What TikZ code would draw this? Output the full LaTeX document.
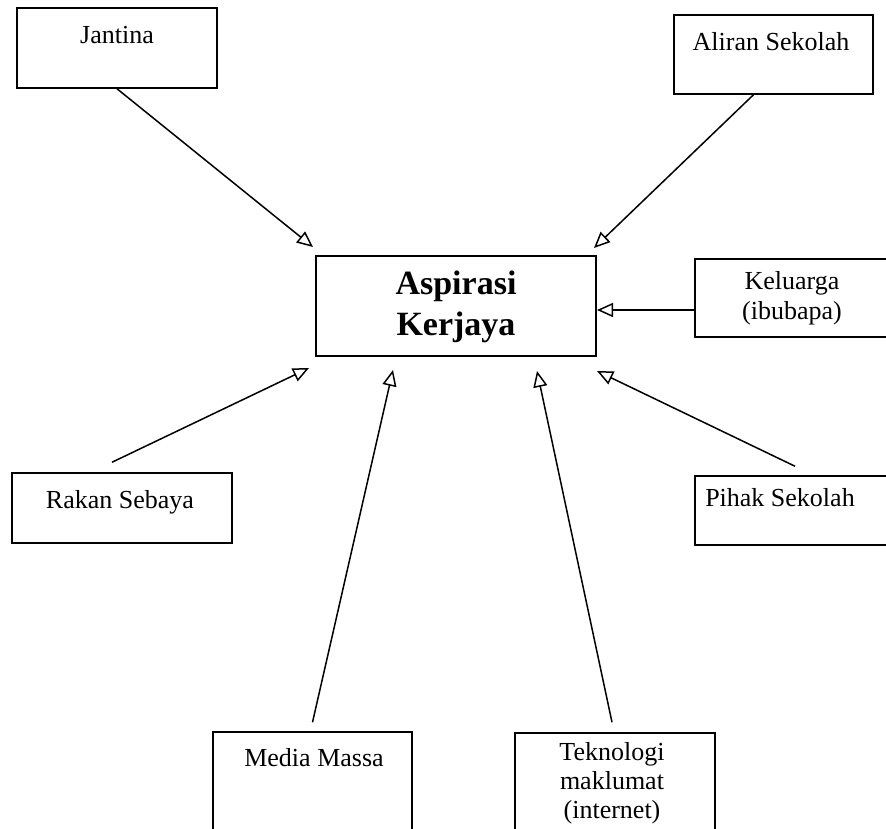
\documentclass[tikz,border=0pt]{standalone}
\usepackage{fontspec}
\setmainfont{Liberation Serif}
\usetikzlibrary{arrows.meta}

\tikzset{
  kotak/.style={draw, line width=1.5pt, inner sep=0pt},
  teks/.style={font=\fontsize{26}{29}\selectfont, align=center, inner sep=0pt},
  tebal/.style={font=\fontsize{34}{41}\selectfont\bfseries, align=center, inner sep=0pt},
  panah/.style={line width=1.5pt, -{Triangle[open, length=16pt, width=14pt]}}
}

\begin{document}
\begin{tikzpicture}[x=1pt,y=-1pt]
%%Frame
\useasboundingbox (0,0) rectangle (886,828);
\clip (0,0) rectangle (886,828);
%%Boxes
\node[kotak, minimum width=200pt, minimum height=80pt] (jantina) at (117,48) {};
\node[kotak, minimum width=199pt, minimum height=79pt] (aliran) at (773.5,54.5) {};
\node[kotak, minimum width=280pt, minimum height=100pt] (aspirasi) at (456,306) {};
\node[kotak, minimum width=196pt, minimum height=78pt] (keluarga) at (793,298) {};
\node[kotak, minimum width=220pt, minimum height=70pt] (rakan) at (122,508) {};
\node[kotak, minimum width=196pt, minimum height=69pt] (pihak) at (793,510.5) {};
\node[kotak, minimum width=199pt, minimum height=120pt] (media) at (312.5,792) {};
\node[kotak, minimum width=200pt, minimum height=120pt] (teknologi) at (615,793) {};

%%Label
\node[teks] (tJantina) at (117,35) {Jantina};
\node[teks] (tAliran) at (771,42) {Aliran Sekolah};
\node[tebal] (tAspirasi) at (456,307) {Aspirasi\\Kerjaya};
\node[teks, font=\fontsize{26}{30}\selectfont] (tKeluarga) at (792,298) {Keluarga\\(ibubapa)};
\node[teks] (tRakan) at (120,502) {Rakan Sebaya};
\node[teks] (tPihak) at (780,498) {Pihak Sekolah};
\node[teks] (tMedia) at (314,758) {Media Massa};
\node[teks, anchor=north, font=\fontsize{26}{29}\selectfont] (tTeknologi) at (612,742) {Teknologi\\maklumat\\(internet)};

%%Tips
\coordinate (hJantina) at (313,247);
\coordinate (hAliran) at (594,248);
\coordinate (hKeluarga) at (597,310);
\coordinate (hRakan) at (309,368);
\coordinate (hMedia) at (393,370);
\coordinate (hTeknologi) at (537,371);
\coordinate (hPihak) at (597,371);

%%Arrows
\draw[panah] (jantina.south) -- (hJantina);
\draw[panah] ([xshift=-20pt]aliran.south) -- (hAliran);
\draw[panah] ([yshift=-12pt]keluarga.west) -- (hKeluarga);
\draw[panah] ([xshift=-10pt,yshift=10pt]rakan.north) -- (hRakan);
\draw[panah] ([yshift=9pt]media.north) -- (hMedia);
\draw[panah] ([xshift=-3pt,yshift=10pt]teknologi.north) -- (hTeknologi);
\draw[panah] ([xshift=2pt,yshift=9pt]pihak.north) -- (hPihak);

\end{tikzpicture}
\end{document}
